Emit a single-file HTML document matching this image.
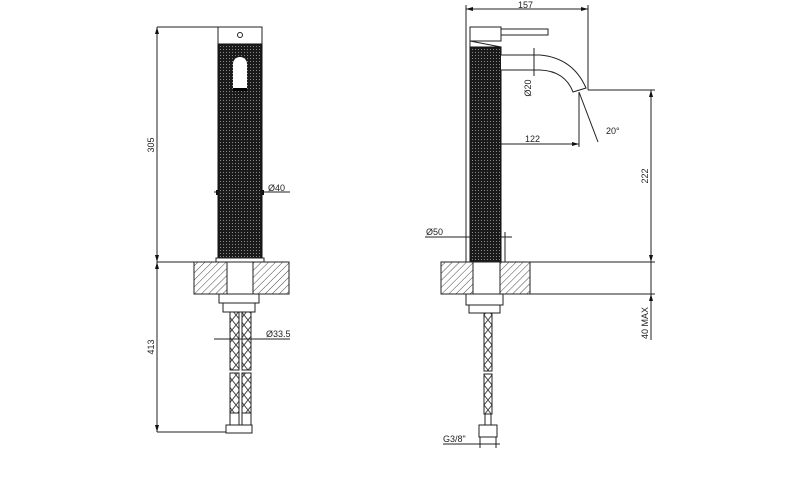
<!DOCTYPE html>
<html><head><meta charset="utf-8"><style>body{margin:0;background:#fff}svg{display:block}text{font-family:"Liberation Sans",sans-serif;font-size:9px;fill:#222}</style></head><body>
<svg width="801" height="478" viewBox="0 0 801 478" xmlns="http://www.w3.org/2000/svg">
<defs>
<pattern id="h" width="5" height="5" patternUnits="userSpaceOnUse" patternTransform="rotate(45)"><rect width="5" height="5" fill="#fff"/><line x1="0" y1="0" x2="0" y2="5" stroke="#333" stroke-width="0.9"/></pattern>
<pattern id="k" width="3" height="3" patternUnits="userSpaceOnUse"><rect width="3" height="3" fill="#1a1a1a"/><rect x="1" y="1" width="1" height="1" fill="#888"/></pattern>
<pattern id="b" width="8" height="10" patternUnits="userSpaceOnUse"><rect width="8" height="10" fill="#fff"/><path d="M0 0L8 10M8 0L0 10" stroke="#444" stroke-width="1"/></pattern>
</defs>
<g stroke="#222" stroke-width="1" fill="none">
<!-- LEFT VIEW -->
<line x1="157" y1="27" x2="218" y2="27"/><line x1="157" y1="262" x2="194" y2="262"/><line x1="157" y1="432" x2="226" y2="432"/>
<line x1="157" y1="27" x2="157" y2="432"/>
<rect x="218" y="27" width="44" height="17" fill="#fff"/>
<circle cx="240" cy="35" r="2.5"/>
<rect x="218" y="44" width="44" height="214" fill="url(#k)" stroke="#111"/>
<path d="M233 90 V64 A7 7 0 0 1 247 64 V90 Z" fill="#fff" stroke="none"/>
<rect x="233" y="88" width="14" height="3" fill="#000" stroke="none"/>
<rect x="216" y="258" width="48" height="4" fill="#fff"/>
<rect x="194" y="262" width="33" height="32" fill="url(#h)"/>
<rect x="253" y="262" width="36" height="32" fill="url(#h)"/>
<line x1="227" y1="262" x2="253" y2="262"/><line x1="227" y1="294" x2="253" y2="294"/>
<rect x="219" y="294" width="40" height="9" fill="#fff"/>
<rect x="223" y="303" width="32" height="9" fill="#fff"/>
<rect x="230" y="312" width="9" height="58" fill="url(#b)"/><rect x="242" y="312" width="9" height="58" fill="url(#b)"/>
<rect x="230" y="373" width="9" height="40" fill="url(#b)"/><rect x="242" y="373" width="9" height="40" fill="url(#b)"/>
<rect x="230" y="413" width="9" height="12"/><rect x="242" y="413" width="9" height="12"/>
<rect x="226" y="425" width="26" height="8" fill="#fff"/>
<line x1="214" y1="192" x2="290" y2="192"/><line x1="214" y1="339" x2="290" y2="339"/>
<!-- RIGHT VIEW -->
<line x1="466" y1="9" x2="588" y2="9"/><line x1="466" y1="5" x2="466" y2="262"/><line x1="588" y1="5" x2="588" y2="90"/>
<rect x="470" y="27" width="31" height="14" fill="#fff"/>
<rect x="501" y="29" width="47" height="6" fill="#fff"/>
<path d="M470 41 L501 47 L470 47 Z" fill="#fff"/>
<rect x="470" y="47" width="31" height="215" fill="url(#k)" stroke="#111"/>
<path d="M501 55 L540 55 Q573 58 586 88 L573 92 Q565 71 540 70 L501 70" fill="#fff"/>
<line x1="534" y1="48" x2="534" y2="76"/>
<line x1="579" y1="92" x2="579" y2="147"/><line x1="501" y1="144" x2="579" y2="144"/>
<line x1="579" y1="92" x2="598" y2="142"/>
<line x1="588" y1="90" x2="655" y2="90"/><line x1="651" y1="90" x2="651" y2="340"/>
<line x1="425" y1="237" x2="470" y2="237"/><line x1="501" y1="237" x2="512" y2="237"/><line x1="505" y1="232" x2="505" y2="262"/>
<rect x="441" y="262" width="32" height="32" fill="url(#h)"/>
<rect x="500" y="262" width="30" height="32" fill="url(#h)"/>
<line x1="473" y1="262" x2="655" y2="262"/><line x1="473" y1="294" x2="655" y2="294"/>
<rect x="466" y="294" width="37" height="11" fill="#fff"/>
<rect x="469" y="305" width="31" height="8" fill="#fff"/>
<rect x="484" y="313" width="8" height="58" fill="url(#b)"/>
<rect x="484" y="374" width="8" height="40" fill="url(#b)"/>
<rect x="485" y="414" width="6" height="11"/>
<rect x="479" y="425" width="18" height="12" fill="#fff"/>
<line x1="443" y1="444" x2="500" y2="444"/><line x1="480" y1="437" x2="480" y2="448"/><line x1="496" y1="437" x2="496" y2="448"/>
</g>
<g fill="#111">
<path d="M157 27l-2 7h4z M157 262l-2-7h4z M157 262l-2 7h4z M157 432l-2-7h4z"/>
<path d="M466 9l7-2v4z M588 9l-7-2v4z M579 144l-7-2v4z M651 90l-2 7h4z M651 262l-2-7h4z M651 294l-2 7h4z"/>
<rect x="216" y="190" width="2" height="5"/><rect x="262" y="190" width="2" height="5"/>
</g>
<text transform="translate(154 145) rotate(-90)" text-anchor="middle">305</text>
<text transform="translate(154 347) rotate(-90)" text-anchor="middle">413</text>
<text x="268" y="191">Ø40</text>
<text x="266" y="337">Ø33.5</text>
<text x="518" y="8">157</text>
<text transform="translate(531 88) rotate(-90)" text-anchor="middle">Ø20</text>
<text x="525" y="142">122</text>
<text x="606" y="134">20°</text>
<text transform="translate(648 176) rotate(-90)" text-anchor="middle">222</text>
<text transform="translate(648 323) rotate(-90)" text-anchor="middle">40 MAX</text>
<text x="426" y="235">Ø50</text>
<text x="443" y="442">G3/8"</text>
</svg>
</body></html>
